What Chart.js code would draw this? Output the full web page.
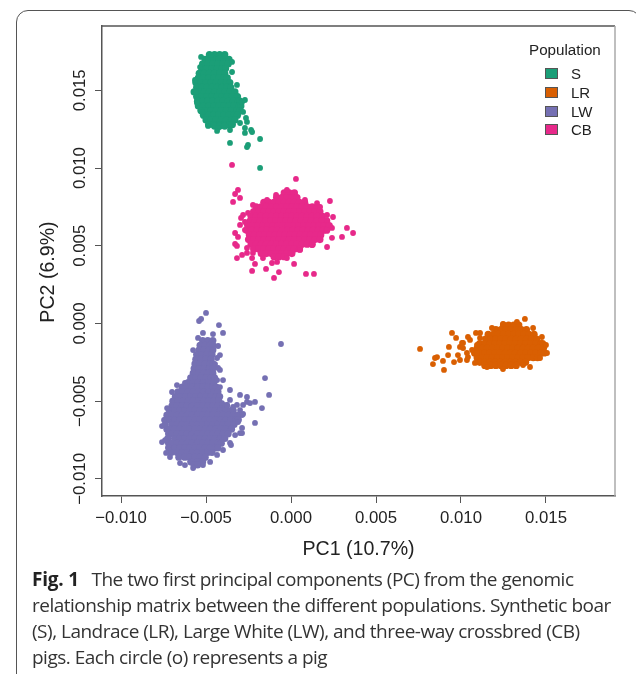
<!DOCTYPE html>
<html>
<head>
<meta charset="utf-8">
<title>PCA plot</title>
<script src="https://cdn.jsdelivr.net/npm/chart.js@4"></script>
<style>
  html, body { margin: 0; padding: 0; background: #fff; }
  body { position: relative; width: 636px; height: 674px; overflow: hidden; }
  canvas { position: absolute; left: 0; top: 0; }
  #frame { position: absolute; left: 16px; top: 10px; width: 623px; height: 700px;
    border: 1.5px solid #555; border-radius: 12px; }
  #legend { position: absolute; left: 529px; top: 41px; font: 15.2px "Liberation Sans", sans-serif; color: #222; }
  #legend .row { position: absolute; left: 0; white-space: nowrap; font-size: 15px; }
  #legend .swatch { position: absolute; left: 16px; top: 3px; width: 11px; height: 9px; border: 1px solid #555; }
  #legend .name { position: absolute; left: 42px; top: 0; }
  #caption { position: absolute; left: 32px; top: 566px; font: 19px/26px "Open Sans", sans-serif;
    color: #333; letter-spacing: -0.5px; white-space: nowrap; }
  #caption b { color: #222; font-weight: 700; letter-spacing: -0.2px; margin-right: 8px; }
</style>
</head>
<body>
<div id="frame"></div>
<canvas id="pcaCanvas" width="636" height="674"></canvas>
<div id="legend"></div>
<div id="caption"></div>

<script>
// PC1 / PC2. The blobs are solid, so their rows are estimates of the filled shape.
const populations = ['S', 'LR', 'LW', 'CB'];
const popColors = ['#1B9E77', '#D95F02', '#7570B3', '#E7298A'];
const xTicks = [-0.01, -0.005, 0, 0.005, 0.01, 0.015];
const yTicks = [-0.01, -0.005, 0, 0.005, 0.01, 0.015];
const xLabel = 'PC1 (10.7%)';
const yLabel = 'PC2 (6.9%)';
const legendTitle = 'Population';
const captionBold = 'Fig. 1';
const captionLines = [
  'The two first principal components (PC) from the genomic',
  'relationship matrix between the different populations. Synthetic boar',
  '(S), Landrace (LR), Large White (LW), and three-way crossbred (CB)',
  'pigs. Each circle (o) represents a pig'
];

const sRowY = [.0173, .0170, .0167, .0164, .0161, .0158, .0155, .0152, .0149, .0146, .0143, .0140, .0137, .0134, .0131, .0128, .0127];
const sRowX = [
  [-.0048, -.0045, -.0042, -.0039],
  [-.00505, -.00485, -.00455, -.00425, -.00395, -.00365],
  [-.0052, -.0049, -.0046, -.0043, -.0040, -.0037],
  [-.00525, -.00495, -.00465, -.00435, -.00405, -.00385],
  [-.0054, -.0051, -.0048, -.0045, -.0042, -.0039],
  [-.00545, -.00515, -.00485, -.00455, -.00425, -.00395, -.00375],
  [-.0056, -.0053, -.0050, -.0047, -.0044, -.0041, -.0038, -.0036],
  [-.00555, -.00525, -.00495, -.00465, -.00435, -.00405, -.00375, -.00355],
  [-.0057, -.0054, -.0051, -.0048, -.0045, -.0042, -.0039, -.0036, -.0033],
  [-.00555, -.00525, -.00495, -.00465, -.00435, -.00405, -.00375, -.00345, -.00315],
  [-.0055, -.0052, -.0049, -.0046, -.0043, -.0040, -.0037, -.0034, -.0031, -.0030],
  [-.00545, -.00515, -.00485, -.00455, -.00425, -.00395, -.00365, -.00335, -.00305, -.00295],
  [-.0053, -.0050, -.0047, -.0044, -.0041, -.0038, -.0035, -.0032, -.0030],
  [-.00515, -.00485, -.00455, -.00425, -.00395, -.00365, -.00335, -.00315],
  [-.0050, -.0047, -.0044, -.0041, -.0038, -.0035, -.0033],
  [-.00485, -.00455, -.00425, -.00395, -.00365, -.00345],
  [-.0045, -.0042, -.0039]
];
const sOutX = [-.00265, -.00259, -.00271, -.00271, -.00235, -.00229, -.00182, -.00359, -.00253, -.00259, -.00182, -.00471, -.00347, -.00288, -.00559, -.00429, -.00388,
  -.00529, -.00535, -.00565, -.00553, -.00524, -.00488, -.00435, -.00359, -.003, -.00282, -.00271, -.00318, -.00347];
const sOutY = [.01322, .01297, .01258, .01226, .01245, .01232, .01187, .01162, .01149, .01135, .01001, .01728, .01683, .01425, .0149, .01258, .01721,
  .01715, .0165, .01567, .01419, .01361, .01271, .01239, .01245, .0129, .01361, .01438, .01535, .01618];

const lrRowY = [-.0001, -.0004, -.0007, -.0010, -.0013, -.0016, -.0019, -.0022, -.0025, -.0027];
const lrRowX = [
  [.0125, .0128, .0131, .0134],
  [.01205, .01235, .01265, .01295, .01325, .01355, .01385],
  [.0116, .0119, .0122, .0125, .0128, .0131, .0134, .0137, .0140, .0143],
  [.01145, .01175, .01205, .01235, .01265, .01295, .01325, .01355, .01385, .01415, .01445],
  [.0111, .0114, .0117, .0120, .0123, .0126, .0129, .0132, .0135, .0138, .0141, .0144, .0147, .0148],
  [.01095, .01125, .01155, .01185, .01215, .01245, .01275, .01305, .01335, .01365, .01395, .01425, .01455, .01485],
  [.0108, .0111, .0114, .0117, .0120, .0123, .0126, .0129, .0132, .0135, .0138, .0141, .0144, .0147, .0149],
  [.01095, .01125, .01155, .01185, .01215, .01245, .01275, .01305, .01335, .01365, .01395, .01425, .0145],
  [.0111, .0114, .0117, .0120, .0123, .0126, .0129, .0132, .0135, .0138],
  [.0114, .01175, .01205, .01235, .01265, .01295, .01325]
];
const lrOutX = [.01376, .00947, .00971, .00759, .00859, .00847, .00835, .00894, .009, .00929, .00924, .00959, .00994, .00982, .01006, .00994, .01035, .01406, .01088, .01041, .01012,
  .01112, .01182, .01247, .01329, .01424, .01476, .015, .01506, .01465, .01365, .01247, .01153, .01082, .01035, .01012, .01053, .01041, .01065, .01094, .01094, .01112];
const lrOutY = [.00029, -.00061, -.00093, -.00164, -.00216, -.00222, -.00261, -.00241, -.00299, -.00151, -.00203, -.00248, -.00235, -.00203, -.00125, -.00151, -.0019, -.0028, -.00061, -.00087, -.00158,
  -.00061, -.00029, -.00003, .0001, -.00029, -.00087, -.00138, -.0019, -.00222, -.00267, -.00293, -.0028, -.00254, -.00235, -.00125, -.00106, -.00216, -.0017, -.0019, -.00138, -.00093];

const lwRowY = [-.0011, -.0014, -.0017, -.0020, -.0023, -.0026, -.0029, -.0032, -.0035, -.0038, -.0041, -.0044, -.0047, -.0050, -.0053, -.0056, -.0059, -.0062, -.0065, -.0068, -.0071, -.0074, -.0077, -.0080, -.0083, -.0086, -.0089, -.0091];
const lwRowX = [
  [-.0052, -.0049, -.0046],
  [-.00535, -.00505, -.00475, -.0046],
  [-.0054, -.0051, -.0048, -.0046],
  [-.00555, -.00525, -.00495, -.00465],
  [-.0056, -.0053, -.0050, -.0047],
  [-.00565, -.00535, -.00505, -.00475, -.0046],
  [-.0057, -.0054, -.0051, -.0048, -.0046],
  [-.00575, -.00545, -.00515, -.00485, -.0046],
  [-.0059, -.0056, -.0053, -.0050, -.0047, -.0045],
  [-.00605, -.00575, -.00545, -.00515, -.00485, -.00455],
  [-.0064, -.0061, -.0058, -.0055, -.0052, -.0049, -.0046, -.0044],
  [-.00665, -.00635, -.00605, -.00575, -.00545, -.00515, -.00485, -.00455, -.0043],
  [-.0068, -.0065, -.0062, -.0059, -.0056, -.0053, -.0050, -.0047, -.0044, -.0042],
  [-.00695, -.00665, -.00635, -.00605, -.00575, -.00545, -.00515, -.00485, -.00455, -.00425],
  [-.0070, -.0067, -.0064, -.0061, -.0058, -.0055, -.0052, -.0049, -.0046, -.0043, -.0040, -.0038],
  [-.00715, -.00685, -.00655, -.00625, -.00595, -.00565, -.00535, -.00505, -.00475, -.00445, -.00415, -.00385, -.00355, -.0034],
  [-.0073, -.0070, -.0067, -.0064, -.0061, -.0058, -.0055, -.0052, -.0049, -.0046, -.0043, -.0040, -.0037, -.0034, -.0031],
  [-.00735, -.00715, -.00685, -.00655, -.00625, -.00595, -.00565, -.00535, -.00505, -.00475, -.00445, -.00415, -.00385, -.00355, -.00325, -.0031],
  [-.0074, -.0070, -.0067, -.0064, -.0061, -.0058, -.0055, -.0052, -.0049, -.0046, -.0043, -.0040, -.0037, -.00335],
  [-.0073, -.00715, -.00685, -.00655, -.00625, -.00595, -.00565, -.00535, -.00505, -.00475, -.00445, -.00415, -.00385, -.0035],
  [-.0072, -.0070, -.0067, -.0064, -.0061, -.0058, -.0055, -.0052, -.0049, -.0046, -.0043, -.0040, -.0037],
  [-.00725, -.00685, -.00655, -.00625, -.00595, -.00565, -.00535, -.00505, -.00475, -.00445, -.00415, -.0039],
  [-.0072, -.0070, -.0067, -.0064, -.0061, -.0058, -.0055, -.0052, -.0049, -.0046, -.0043, -.0041],
  [-.0072, -.00685, -.00655, -.00625, -.00595, -.00565, -.00535, -.00505, -.00475, -.00445, -.0043],
  [-.00705, -.0067, -.0064, -.0061, -.0058, -.0055, -.0052, -.0049, -.00465],
  [-.0066, -.00625, -.00595, -.00565, -.00535, -.00505],
  [-.0059, -.0058, -.0055, -.0052],
  [-.0057, -.0055]
];
const lwOutX = [-.005, -.00529, -.00541, -.00424, -.004, -.00059, -.00429, -.00418, -.00447, -.00418, -.004, -.00153, -.00359, -.003, -.00129, -.00359, -.00259, -.00259, -.00212, -.00241, -.00171, -.00282, -.00282, -.00212, -.00288, -.003, -.00353, -.00759, -.00759, -.00312, -.00518, -.00459,
  -.00459, -.00435, -.00429, -.00435, -.00418, -.00429, -.00406, -.00376, -.00341, -.00318, -.003, -.00288, -.00288, -.00329, -.00359, -.004, -.00435, -.00476, -.00518, -.00576, -.00624, -.00653, -.00712, -.00735, -.00741, -.00747, -.00729, -.007, -.00671, -.00624, -.00576, -.00547];
const lwOutY = [.00068, .00029, .00016, -.0001, -.00061, -.00132, -.00145, -.00203, -.00261, -.00299, -.00364, -.00351, -.00428, -.0046, -.0046, -.00492, -.00473, -.00505, -.00505, -.00512, -.00544, -.00524, -.00582, -.0064, -.00672, -.00705, -.00782, -.0066, -.00763, -.00634, -.00061, -.00068,
  -.00171, -.00222, -.00286, -.00364, -.00409, -.00492, -.00512, -.00524, -.00537, -.00524, -.00557, -.00589, -.00705, -.00718, -.00769, -.00814, -.00846, -.00891, -.00911, -.0093, -.00911, -.00898, -.00859, -.00833, -.0075, -.00621, -.00544, -.00441, -.00396, -.00383, -.00171, -.00093];

const cbRowY = [.0084, .0081, .0078, .0075, .0072, .0069, .0066, .0063, .0060, .0057, .0054, .0051, .0048, .0045, .0043];
const cbRowX = [
  [-.0004, -.0001, .0002],
  [-.00085, -.00055, -.00025, .00005, .00035],
  [-.0016, -.0013, -.0010, -.0007, -.0004, -.0001, .0002, .0005, .0008],
  [-.00205, -.00175, -.00145, -.00115, -.00085, -.00055, -.00025, .00005, .00035, .00065, .00095, .00125, .00155],
  [-.0022, -.0019, -.0016, -.0013, -.0010, -.0007, -.0004, -.0001, .0002, .0005, .0008, .0011, .0014, .0017],
  [-.00235, -.00205, -.00175, -.00145, -.00115, -.00085, -.00055, -.00025, .00005, .00035, .00065, .00095, .00125, .00155, .00185],
  [-.0024, -.0021, -.0018, -.0015, -.0012, -.0009, -.0006, -.0003, .0000, .0003, .0006, .0009, .0012, .0015, .0018, .0021],
  [-.00255, -.00225, -.00195, -.00165, -.00135, -.00105, -.00075, -.00045, -.00015, .00015, .00045, .00075, .00105, .00135, .00165, .00195, .00225],
  [-.0026, -.0023, -.0020, -.0017, -.0014, -.0011, -.0008, -.0005, -.0002, .0001, .0004, .0007, .0010, .0013, .0016, .0019, .0021],
  [-.00245, -.00215, -.00185, -.00155, -.00125, -.00095, -.00065, -.00035, -.00005, .00025, .00055, .00085, .00115, .00145, .00175],
  [-.0025, -.0022, -.0019, -.0016, -.0013, -.0010, -.0007, -.0004, -.0001, .0002, .0005, .0008, .0011, .0014, .0017],
  [-.00235, -.00205, -.00175, -.00145, -.00115, -.00085, -.00055, -.00025, .00005, .00035, .00065, .00095, .00125],
  [-.0022, -.0019, -.0016, -.0013, -.0010, -.0007, -.0004, -.0001, .0002, .0005],
  [-.00175, -.00145, -.00115, -.00085, -.00055, -.00025, .00005],
  [-.0010, -.0007, -.0004]
];
const cbOutX = [-.00347, .00029, -.00312, -.00329, -.003, -.00341, -.00282, -.00294, -.00271, -.003, -.00329, -.00312, -.00329, -.00318, -.00318, -.00288, -.00259, -.00229, -.00212, -.00229, -.00147, -.00112, -.00071, -.001, .00018, .00088, .00135, -.00088, .00229, .00247, .00212, .00241, .00212, .00241, .00212, .003, .00329, .00365,
  -.00253, -.00271, -.00259, -.00224, -.00165, -.00082, -.00024, .00053, .00124, -.00224, -.00141, -.00024, .00082, .00153, .00171, .00182];
const cbOutY = [.0102, .0093, .00859, .00833, .00808, .00782, .00698, .00679, .00653, .00634, .00582, .00557, .00512, .00499, .00421, .00441, .00454, .00421, .00383, .00338, .00351, .00389, .00331, .00293, .00383, .00319, .00319, .00827, .00788, .00685, .00698, .00615, .00602, .00551, .00492, .00557, .00615, .00582,
  .00711, .00602, .00486, .00454, .00421, .00396, .00421, .00473, .00505, .00763, .00795, .00859, .00795, .00775, .0075, .00666];

function toPoints(rowY, rowX, outX, outY) {
  const pts = [];
  rowY.forEach((y, i) => rowX[i].forEach(x => pts.push({ x, y })));
  outX.forEach((x, i) => pts.push({ x, y: outY[i] }));
  return pts;
}

// points of the solid part come first and are drawn a bit bigger so the blob closes up
function radiusFor(rowX) {
  const solid = rowX.reduce((n, r) => n + r.length, 0);
  return ctx => (ctx.dataIndex < solid ? 3.6 : 2.9);
}

function tickText(v) {
  return v.toFixed(3).replace('-', '\u2212');
}

const axisColor = '#555';
const fontFamily = '"Liberation Sans", Arial, sans-serif';

// R-style bits Chart.js won't do itself: centred vertical y ticks, y label, top/right of the box
const boxAndYLabels = {
  id: 'boxAndYLabels',
  afterDraw(chart) {
    const { ctx, chartArea: a, scales } = chart;
    ctx.save();
    ctx.lineWidth = 1.5;
    ctx.strokeStyle = axisColor;
    ctx.beginPath();
    ctx.moveTo(a.left, a.top);
    ctx.lineTo(a.right, a.top);
    ctx.stroke();
    ctx.strokeStyle = '#aaa';
    ctx.beginPath();
    ctx.moveTo(a.right, a.top);
    ctx.lineTo(a.right, a.bottom);
    ctx.stroke();

    ctx.fillStyle = '#222';
    ctx.textAlign = 'center';
    ctx.textBaseline = 'middle';
    ctx.font = '16.8px ' + fontFamily;
    yTicks.forEach(v => {
      ctx.save();
      ctx.translate(80, scales.y.getPixelForValue(v));
      ctx.rotate(-Math.PI / 2);
      ctx.fillText(tickText(v), 0, 0);
      ctx.restore();
    });
    ctx.font = '19.6px ' + fontFamily;
    ctx.translate(49, 272);
    ctx.rotate(-Math.PI / 2);
    ctx.fillText(yLabel, 0, 0);
    ctx.restore();
  }
};

new Chart(document.getElementById('pcaCanvas'), {
  type: 'scatter',
  data: {
    datasets: [
      { label: populations[0], data: toPoints(sRowY, sRowX, sOutX, sOutY), backgroundColor: popColors[0], pointRadius: radiusFor(sRowX) },
      { label: populations[1], data: toPoints(lrRowY, lrRowX, lrOutX, lrOutY), backgroundColor: popColors[1], pointRadius: radiusFor(lrRowX) },
      { label: populations[2], data: toPoints(lwRowY, lwRowX, lwOutX, lwOutY), backgroundColor: popColors[2], pointRadius: radiusFor(lwRowX) },
      { label: populations[3], data: toPoints(cbRowY, cbRowX, cbOutX, cbOutY), backgroundColor: popColors[3], pointRadius: radiusFor(cbRowX) }
    ]
  },
  options: {
    responsive: false,
    animation: false,
    elements: { point: { borderWidth: 0 } },
    layout: { padding: { left: 0, top: 26, right: 21, bottom: 109 } },
    plugins: { legend: { display: false }, tooltip: { enabled: false } },
    scales: {
      x: {
        type: 'linear',
        min: -0.01112,
        max: 0.01906,
        afterBuildTicks: s => { s.ticks = xTicks.map(value => ({ value })); },
        afterFit: s => { s.height = 69; },
        grid: { drawOnChartArea: false, tickLength: 7, tickColor: axisColor, tickWidth: 1 },
        border: { color: axisColor, width: 1.5 },
        ticks: {
          autoSkip: false, maxRotation: 0, padding: 5, color: '#222',
          font: { family: fontFamily, size: 16.8 },
          callback: v => tickText(v)
        },
        title: { display: true, text: xLabel, color: '#222', padding: { top: 0, bottom: 4 }, font: { family: fontFamily, size: 19.6 } }
      },
      y: {
        type: 'linear',
        min: -0.0111,
        max: 0.01914,
        afterBuildTicks: s => { s.ticks = yTicks.map(value => ({ value })); },
        afterFit: s => { s.width = 102; },
        grid: { drawOnChartArea: false, tickLength: 7, tickColor: axisColor, tickWidth: 1 },
        border: { color: axisColor, width: 1.5 },
        ticks: { display: false }
      }
    }
  },
  plugins: [boxAndYLabels]
});

// legend and caption are plain html
const legend = document.getElementById('legend');
legend.innerHTML = `<div>${legendTitle}</div>` + populations.map((p, i) => `
  <div class="row" style="top:${24 + i * 18.8}px">
    <span class="swatch" style="background:${popColors[i]}"></span><span class="name">${p}</span>
  </div>`).join('');

document.getElementById('caption').innerHTML =
  `<b>${captionBold}</b> ` + captionLines.join('<br>');
</script>
</body>
</html>
